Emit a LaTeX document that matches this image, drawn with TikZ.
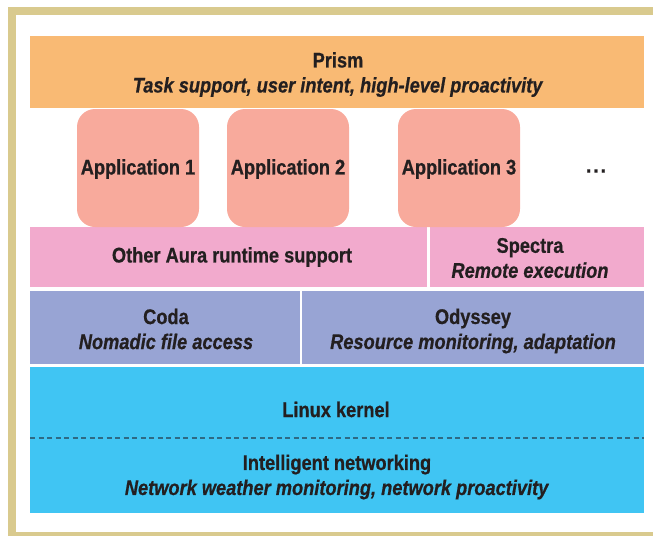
\documentclass[tikz,border=0pt]{standalone}
\usepackage{fontspec}
\setmainfont{Liberation Sans}[FakeStretch=0.86, FakeBold=0.6]
\definecolor{frametan}{HTML}{D9CA8E}
\definecolor{prismc}{HTML}{F9BA74}
\definecolor{appc}{HTML}{F8AA9C}
\definecolor{pinkc}{HTML}{F2AACD}
\definecolor{purpc}{HTML}{98A4D4}
\definecolor{bluec}{HTML}{40C5F3}
\definecolor{txt}{HTML}{231F20}
\definecolor{dashc}{HTML}{2E6A84}
\newcommand\layerfont{\fontsize{21.2}{25}\selectfont\bfseries}
\tikzset{
  layer/.style={draw=none, inner sep=0pt, outer sep=0pt, align=center,
    anchor=north west, font=\layerfont, text=txt},
  appbox/.style={layer, fill=appc, rounded corners=18pt,
    minimum width=122pt, minimum height=118pt},
  label/.style={font=\layerfont, text=txt, align=center, inner sep=0pt},
}
\begin{document}
\begin{tikzpicture}[x=1pt, y=-1pt]
\useasboundingbox (0,0) rectangle (653,536);
% frame
\fill[frametan] (8,7) rectangle (653,15);
\fill[frametan] (8,7) rectangle (16,536);
\fill[frametan] (8,532) rectangle (653,536);
% layers
\node[layer, fill=prismc, minimum width=614pt, minimum height=72pt] (prism) at (30,36) {};
\node[label] (prismt) at (338,74.5) {Prism\\\textit{Task support, user intent, high-level proactivity}};
\node[layer, fill=pinkc, minimum width=397pt, minimum height=60pt] (aura) at (30,227) {};
\node[label] (aurat) at (232,257) {Other Aura runtime support};
\node[layer, fill=pinkc, minimum width=214pt, minimum height=60pt] (spectra) at (430,227) {};
\node[label] (spectrat) at (530,258) {Spectra\\\textit{Remote execution}};
\node[appbox] (app1) at (77,109) {};
\node[label] (app1t) at (138,169) {Application 1};
\node[appbox] (app2) at (227,109) {};
\node[label] (app2t) at (288,169) {Application 2};
\node[appbox] (app3) at (398,109) {};
\node[label] (app3t) at (459,169) {Application 3};
\node[label] (dots) at (596,171) {.\kern2.2pt.\kern2.2pt.};
\node[layer, fill=purpc, minimum width=270pt, minimum height=73pt] (coda) at (30,291) {};
\node[label] (codat) at (166,329) {Coda\\\textit{Nomadic file access}};
\node[layer, fill=purpc, minimum width=342pt, minimum height=73pt] (odyssey) at (302,291) {};
\node[label] (odysseyt) at (473,331) {Odyssey\\\textit{Resource monitoring, adaptation}};
\node[layer, fill=bluec, minimum width=614pt, minimum height=146pt] (blue) at (30,367) {};
\coordinate (dl) at (30,438);
\coordinate (dr) at (644,438);
\draw[dashc, line width=1.2pt, dash pattern=on 5pt off 3.5pt] (dl) -- (dr);
\node[label] (linux) at (336,409.5) {Linux kernel};
\node[label] (netw) at (337,477) {Intelligent networking\\\textit{Network weather monitoring, network proactivity}};
\end{tikzpicture}
\end{document}
